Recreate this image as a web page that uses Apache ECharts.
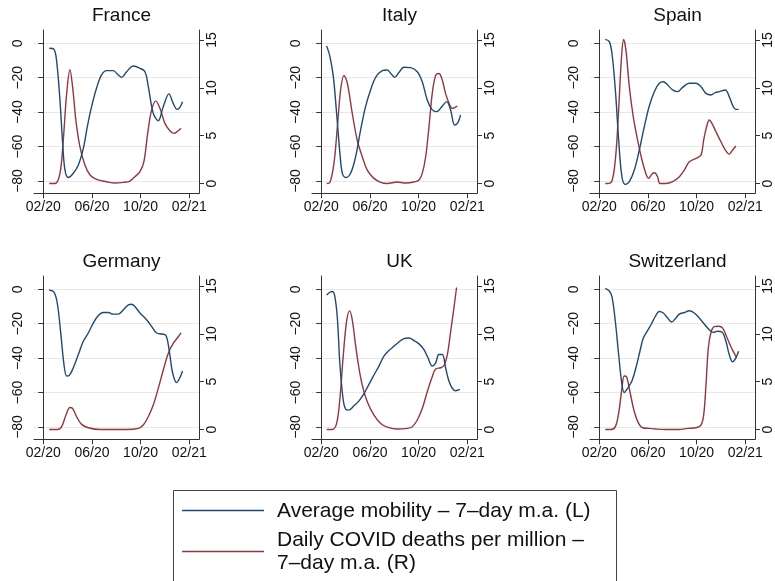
<!DOCTYPE html>
<html>
<head>
<meta charset="utf-8">
<title>Mobility and COVID deaths</title>
<script src="https://cdn.jsdelivr.net/npm/echarts@6/dist/echarts.min.js"></script>
<style>
  html, body { margin: 0; padding: 0; background: #ffffff; }
  #chart { width: 775px; height: 581px; }
</style>
</head>
<body>
<div id="chart"></div>
<script>
// x values are months since February 2020 (0 = 02/20, 12 = 02/21)
const countries = ['France', 'Italy', 'Spain', 'Germany', 'UK', 'Switzerland'];
const xTickMonths = [0, 4, 8, 12];
const xTickLabels = ['02/20', '06/20', '10/20', '02/21'];
const mobilityTicks = [-80, -60, -40, -20, 0];
const deathTicks = [0, 5, 10, 15];
const legendMobility = 'Average mobility \u2013 7\u2013day m.a. (L)';
const legendDeaths = ['Daily COVID deaths per million \u2013', '7\u2013day m.a. (R)'];

// Average mobility, 7-day moving average (left axis)
const franceMobility = [[0.49,-2.9],[0.88,-3.5],[1.1,-10.6],[1.37,-33],[1.59,-58],[1.78,-73.6],[2.05,-78],[2.47,-75.5],[2.88,-70.7],[3.29,-61],[3.62,-48.4],[3.97,-36.8],[4.38,-26],[4.79,-18.4],[5.2,-15.9],[5.75,-15.9],[6.16,-18.4],[6.44,-19.8],[6.85,-16.5],[7.4,-13.2],[7.95,-14.5],[8.36,-16.5],[8.63,-25],[9.04,-40.7],[9.45,-45],[9.86,-36.8],[10.33,-29.4],[10.68,-34.9],[11.01,-38.4],[11.23,-37.2],[11.45,-33.9]];
const italyMobility = [[0.44,-1.5],[0.71,-7.7],[0.99,-19.4],[1.26,-40.7],[1.53,-63.9],[1.73,-75.5],[2.0,-78],[2.41,-75.5],[2.82,-65.9],[3.23,-50.4],[3.64,-36.8],[4.05,-27.1],[4.47,-19.8],[5.01,-15.9],[5.42,-15.5],[5.75,-17.8],[6.03,-19.8],[6.38,-17],[6.79,-13.9],[7.34,-14.1],[7.89,-16.5],[8.3,-22.3],[8.71,-32.9],[9.12,-38.7],[9.48,-39.7],[9.95,-36.4],[10.3,-33.9],[10.63,-38.7],[10.96,-47.5],[11.23,-46.1],[11.45,-41.6]];
const spainMobility = [[0.49,2.3],[0.82,1.0],[1.04,-5.8],[1.32,-27],[1.59,-56],[1.86,-77.5],[2.14,-82],[2.47,-80.4],[2.88,-73.6],[3.29,-62],[3.7,-48.4],[4.11,-36.4],[4.52,-28.1],[4.93,-23.2],[5.26,-22.3],[5.62,-24.2],[6.03,-27.1],[6.44,-28.1],[6.85,-25.6],[7.4,-23.2],[7.95,-23.2],[8.36,-25.2],[8.77,-29.1],[9.18,-30],[9.53,-28.7],[9.86,-28.1],[10.36,-27.1],[10.68,-31],[11.01,-36.8],[11.23,-38.4],[11.45,-38.4]];
const germanyMobility = [[0.49,-0.4],[0.88,-1.7],[1.15,-8.1],[1.42,-24.4],[1.7,-43.7],[1.92,-50.4],[2.14,-50],[2.47,-45.6],[2.88,-37.9],[3.29,-30.2],[3.7,-25.4],[4.11,-19.6],[4.52,-15.2],[4.93,-13.5],[5.34,-13.5],[5.75,-14.4],[6.16,-14.4],[6.58,-11.9],[6.99,-9],[7.26,-8.7],[7.53,-10],[7.95,-13.8],[8.49,-17.7],[8.9,-21.5],[9.32,-25.4],[9.73,-26],[10.08,-26.7],[10.36,-36],[10.63,-48.5],[10.96,-54.2],[11.23,-51.3],[11.45,-47.5]];
const ukMobility = [[0.44,-3.3],[0.71,-1.7],[0.9,-1.3],[1.1,-3.7],[1.32,-16.7],[1.53,-43.7],[1.81,-64.8],[2.0,-69.6],[2.27,-70.2],[2.68,-67.7],[3.1,-64.8],[3.51,-60.6],[3.92,-55.2],[4.33,-49.8],[4.74,-44.6],[5.15,-38.8],[5.56,-35.6],[5.97,-33.1],[6.38,-30.6],[6.79,-28.7],[7.21,-28.3],[7.62,-29.8],[8.03,-31.7],[8.44,-35],[8.77,-39.8],[9.12,-44.6],[9.4,-42.7],[9.67,-37.9],[9.95,-37.9],[10.22,-45.6],[10.49,-53.3],[10.77,-57.5],[11.04,-59],[11.23,-58.5],[11.4,-58.3]];
const switzerlandMobility = [[0.49,0.6],[0.82,-1],[1.04,-4.2],[1.32,-18.7],[1.59,-37.9],[1.86,-55.2],[2.05,-60],[2.33,-57.5],[2.68,-53.3],[3.01,-45.6],[3.34,-36],[3.62,-28.3],[3.97,-24],[4.25,-20.6],[4.6,-15.8],[4.93,-12.9],[5.26,-13.8],[5.62,-16.7],[5.95,-19],[6.25,-17.1],[6.58,-14.4],[6.99,-13.5],[7.4,-12.5],[7.81,-13.8],[8.22,-16.7],[8.63,-20.2],[9.04,-23.5],[9.37,-25],[9.73,-24.4],[10.08,-24.8],[10.41,-30.2],[10.68,-37.9],[10.96,-42.1],[11.23,-39.8],[11.45,-36]];

// Daily COVID deaths per million, 7-day moving average (right axis)
const franceDeaths = [[0.49,0],[0.96,0],[1.37,1.06],[1.64,4.5],[1.92,9.4],[2.19,11.9],[2.41,10.1],[2.68,6.6],[3.01,3.85],[3.42,1.93],[3.84,0.9],[4.38,0.44],[5.2,0.19],[5.89,0.05],[6.58,0.12],[7.12,0.26],[7.53,0.71],[7.95,1.24],[8.27,2.28],[8.58,5.24],[8.9,7.68],[9.26,8.62],[9.59,7.86],[10.0,6.29],[10.41,5.52],[10.74,5.24],[11.1,5.52],[11.32,5.77]];
const italyDeaths = [[0.44,0],[0.71,0.1],[1.04,2.1],[1.32,5.9],[1.59,9.8],[1.86,11.3],[2.14,10.5],[2.55,7.3],[2.96,4.5],[3.37,2.8],[3.78,1.4],[4.33,0.54],[4.88,0.12],[5.42,0],[6.25,0.16],[6.93,0.05],[7.62,0.16],[8.03,0.37],[8.3,1.06],[8.58,2.8],[8.85,5.9],[9.12,9.4],[9.4,11.3],[9.67,11.5],[9.95,10.8],[10.22,9.4],[10.5,8.4],[10.77,7.85],[11.04,8.0],[11.18,8.1]];
const spainDeaths = [[0.49,0],[0.96,0.1],[1.32,2.5],[1.59,7.7],[1.81,12.9],[2.0,15.07],[2.19,13.95],[2.47,10.1],[2.79,7.0],[3.15,4.55],[3.51,2.46],[3.84,1.0],[4.05,0.54],[4.33,1.0],[4.55,1.13],[4.79,0.71],[4.99,0],[5.48,0],[6.03,0.19],[6.58,0.71],[6.99,1.41],[7.4,2.28],[7.95,2.63],[8.36,2.98],[8.58,4.55],[8.82,5.94],[9.04,6.64],[9.26,6.29],[9.59,5.42],[10.0,4.37],[10.36,3.5],[10.68,3.08],[10.96,3.5],[11.23,3.92]];
const germanyDeaths = [[0.49,0],[1.15,0],[1.51,0.3],[1.86,1.5],[2.19,2.3],[2.41,2.2],[2.74,1.34],[3.15,0.54],[3.7,0.19],[4.66,0],[5.75,0],[6.85,0],[7.81,0.12],[8.22,0.47],[8.63,1.34],[9.04,2.56],[9.45,4.3],[9.86,6.2],[10.27,7.96],[10.68,9.0],[11.1,9.7],[11.32,10.1]];
const ukDeaths = [[0.44,0],[0.9,0],[1.26,0.64],[1.53,3.26],[1.81,7.8],[2.08,11.3],[2.33,12.4],[2.55,11.45],[2.82,8.8],[3.1,6.4],[3.37,4.65],[3.78,2.9],[4.33,1.5],[4.88,0.64],[5.42,0.26],[6.25,0.05],[7.07,0.12],[7.48,0.3],[7.89,1.0],[8.3,2.2],[8.71,3.95],[9.12,5.52],[9.4,6.32],[9.81,6.46],[10.08,6.67],[10.36,7.8],[10.63,10.2],[10.9,12.7],[11.12,14.85]];
const switzerlandDeaths = [[0.49,0],[0.96,0],[1.32,0.3],[1.59,1.7],[1.86,4.3],[2.05,5.6],[2.25,5.5],[2.52,3.95],[2.88,1.86],[3.23,0.64],[3.56,0.19],[4.11,0.12],[4.66,0.05],[5.48,0],[6.58,0],[7.26,0.12],[7.95,0.19],[8.36,0.47],[8.58,1.5],[8.77,4.65],[8.96,8.5],[9.18,10.15],[9.45,10.75],[9.81,10.8],[10.14,10.6],[10.47,9.7],[10.82,8.66],[11.1,7.96],[11.29,7.5]];

const mobilitySeries = [franceMobility, italyMobility, spainMobility, germanyMobility, ukMobility, switzerlandMobility];
const deathSeries = [franceDeaths, italyDeaths, spainDeaths, germanyDeaths, ukDeaths, switzerlandDeaths];

// panel geometry (pixels)
const PANEL_LEFT = 34, PANEL_TOP = 30, COL_STEP = 278, ROW_STEP = 246;
const PANEL_W = 165, PANEL_H = 163.3;

const FONT = '"Liberation Sans", Arial, Helvetica, sans-serif';
const NAVY = '#1f4a74';
const MAROON = '#93363d';
const AXIS_COLOR = '#333333';
const TEXT_COLOR = '#111111';

const minusSign = v => String(v).replace('-', '\u2212');

const grids = [], xAxes = [], yAxes = [], series = [], titles = [];

countries.forEach((name, i) => {
  const col = i % 3, row = Math.floor(i / 3);
  const left = PANEL_LEFT + col * COL_STEP;
  const top = PANEL_TOP + row * ROW_STEP;
  grids.push({ left: left, top: top, width: PANEL_W, height: PANEL_H, containLabel: false });

  titles.push({
    text: name,
    left: left + PANEL_W / 2,
    top: top - 29,
    textAlign: 'center',
    textStyle: { fontFamily: FONT, fontSize: 19, fontWeight: 'normal', color: TEXT_COLOR }
  });

  xAxes.push({
    gridIndex: i, type: 'value', min: -0.764, max: 12.8,
    axisLine: { show: true, onZero: false, lineStyle: { color: AXIS_COLOR, width: 1 } },
    axisTick: { show: true, length: 5, customValues: xTickMonths, lineStyle: { color: AXIS_COLOR } },
    axisLabel: {
      customValues: xTickMonths, margin: 7, fontFamily: FONT, fontSize: 14, color: TEXT_COLOR,
      formatter: v => xTickLabels[xTickMonths.indexOf(v)] || ''
    },
    splitLine: { show: false }
  });

  yAxes.push({
    gridIndex: i, type: 'value', position: 'left', min: -87.15, max: 7.73,
    axisLine: { show: true, lineStyle: { color: AXIS_COLOR, width: 1 } },
    axisTick: { show: true, length: 5, customValues: mobilityTicks, lineStyle: { color: AXIS_COLOR } },
    axisLabel: {
      customValues: mobilityTicks, rotate: 90, margin: 9, fontFamily: FONT, fontSize: 14, color: TEXT_COLOR,
      formatter: minusSign
    },
    splitLine: { show: true, lineStyle: { color: '#e8e8e8', width: 1 } }
  });
  yAxes.push({
    gridIndex: i, type: 'value', position: 'right', min: -1.02, max: 16.05,
    axisLine: { show: true, lineStyle: { color: AXIS_COLOR, width: 1 } },
    axisTick: { show: true, length: 5, customValues: deathTicks, lineStyle: { color: AXIS_COLOR } },
    axisLabel: {
      customValues: deathTicks, rotate: 90, margin: 6, fontFamily: FONT, fontSize: 14, color: TEXT_COLOR
    },
    splitLine: { show: false }
  });

  series.push({
    name: legendMobility, type: 'line', xAxisIndex: i, yAxisIndex: 2 * i,
    data: mobilitySeries[i], showSymbol: false, smooth: 0.35,
    lineStyle: { color: NAVY, width: 1.4 }, itemStyle: { color: NAVY }, z: 3
  });
  series.push({
    name: legendDeaths.join(' '), type: 'line', xAxisIndex: i, yAxisIndex: 2 * i + 1,
    data: deathSeries[i], showSymbol: false, smooth: 0.35,
    lineStyle: { color: MAROON, width: 1.4 }, itemStyle: { color: MAROON }, z: 2
  });
});

// legend box beneath the panels
const LEGEND_FONT = '21px ' + FONT;
const legendGraphics = [
  { type: 'rect', shape: { x: 173.5, y: 490.5, width: 443, height: 130 },
    style: { fill: '#ffffff', stroke: '#444444', lineWidth: 1 } },
  { type: 'line', shape: { x1: 182, y1: 510.5, x2: 264, y2: 510.5 },
    style: { stroke: NAVY, lineWidth: 1.4 } },
  { type: 'line', shape: { x1: 182, y1: 551.5, x2: 264, y2: 551.5 },
    style: { stroke: MAROON, lineWidth: 1.4 } },
  { type: 'text', x: 277, y: 511, style: { text: legendMobility, font: LEGEND_FONT, fill: TEXT_COLOR, textVerticalAlign: 'middle' } },
  { type: 'text', x: 277, y: 540, style: { text: legendDeaths[0], font: LEGEND_FONT, fill: TEXT_COLOR, textVerticalAlign: 'middle' } },
  { type: 'text', x: 277, y: 563, style: { text: legendDeaths[1], font: LEGEND_FONT, fill: TEXT_COLOR, textVerticalAlign: 'middle' } }
];

const chart = echarts.init(document.getElementById('chart'), null, { renderer: 'canvas' });
chart.setOption({
  animation: false,
  backgroundColor: '#ffffff',
  title: titles,
  grid: grids,
  xAxis: xAxes,
  yAxis: yAxes,
  series: series,
  graphic: legendGraphics
});
</script>
</body>
</html>
